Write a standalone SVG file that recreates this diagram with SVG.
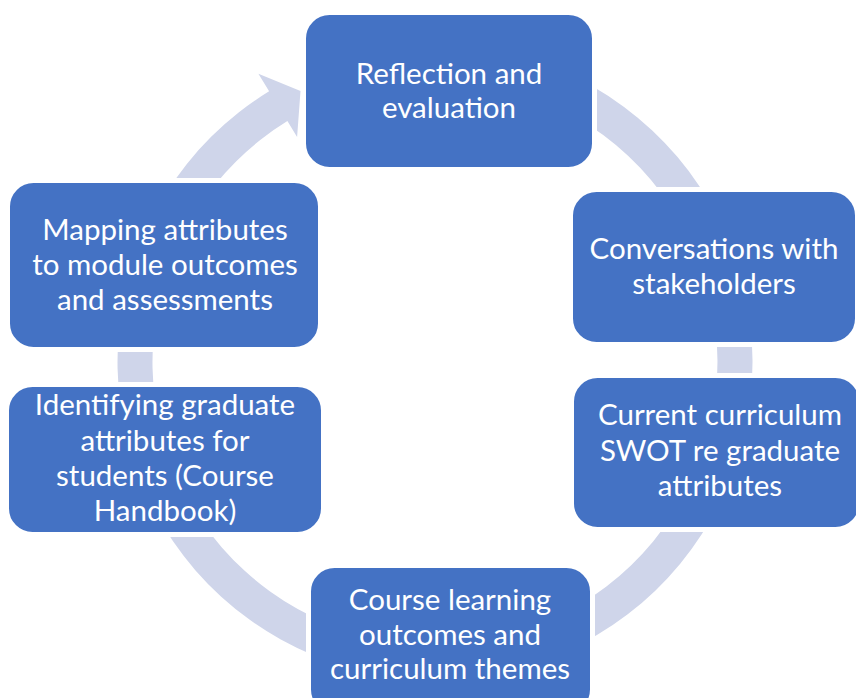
<svg xmlns="http://www.w3.org/2000/svg" width="856" height="698" viewBox="0 0 856 698">
<style>
.box{fill:#4472C4;stroke:#ffffff;stroke-width:5}
.t{font-family:Lato,"Liberation Sans",sans-serif;font-size:29.5px;fill:#ffffff;text-anchor:middle}
.ring{fill:#CFD5EA}
</style>
<rect width="856" height="698" fill="#ffffff"/>
<g id="connectors">
<path class="ring" d="M490.13,49.32 A317.5,317.5 0 1 1 269.11,91.29 L258.4,73.8 L300.5,91 L297.1,136.9 L287.4,121.1 A282.5,282.5 0 1 0 484.06,83.79 Z"/>
</g>
<g id="n1">
<rect class="box" x="303.5" y="12.5" width="291" height="157" rx="26"/>
<text class="t" x="449" y="84">Reflection and</text>
<text class="t" x="449" y="118">evaluation</text>
</g>
<g id="n2">
<rect class="box" x="570.5" y="189.5" width="287" height="155" rx="26"/>
<text class="t" x="714" y="259">Conversations with</text>
<text class="t" x="714" y="294">stakeholders</text>
</g>
<g id="n3">
<rect class="box" x="571.5" y="375.5" width="290" height="154" rx="26"/>
<text class="t" x="720" y="425">Current curriculum</text>
<text class="t" x="720" y="461">SWOT re graduate</text>
<text class="t" x="720" y="496">attributes</text>
</g>
<g id="n4">
<rect class="box" x="308.5" y="565.5" width="284" height="150" rx="26"/>
<text class="t" x="450" y="610">Course learning</text>
<text class="t" x="450" y="645">outcomes and</text>
<text class="t" x="450" y="679">curriculum themes</text>
</g>
<g id="n5">
<rect class="box" x="6.5" y="384.5" width="317" height="150" rx="26"/>
<text class="t" x="165" y="415">Identifying graduate</text>
<text class="t" x="165" y="451">attributes for</text>
<text class="t" x="165" y="486">students (Course</text>
<text class="t" x="165" y="521">Handbook)</text>
</g>
<g id="n6">
<rect class="box" x="7.5" y="180.5" width="313" height="169" rx="26"/>
<text class="t" x="165" y="240">Mapping attributes</text>
<text class="t" x="165" y="275">to module outcomes</text>
<text class="t" x="165" y="310">and assessments</text>
</g>
</svg>
